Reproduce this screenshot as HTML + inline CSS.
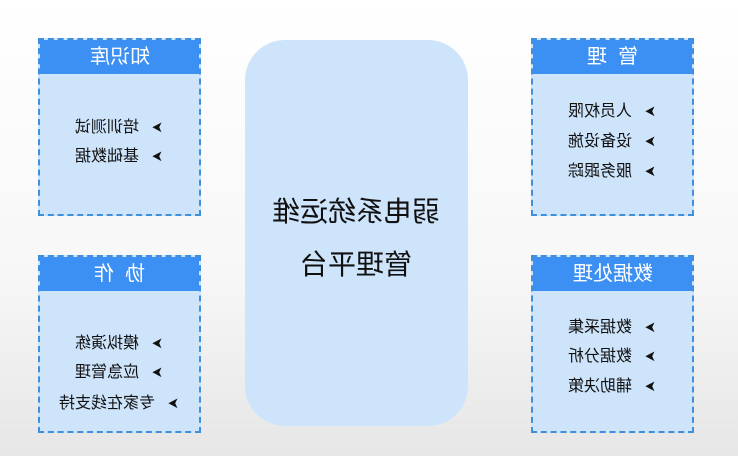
<!DOCTYPE html>
<html><head><meta charset="utf-8"><style>
html,body{margin:0;padding:0}
body{width:738px;height:456px;position:relative;overflow:hidden;background:linear-gradient(#ffffff 0%,#f7f7f7 60%,#e6e6e6 100%);font-family:"Liberation Sans","Noto Sans CJK SC",sans-serif}
.box{position:absolute;width:163px;height:178px;background:#cde4fb;border:2px dashed #3f8fdc;box-sizing:border-box}
.hd{position:absolute;left:0;top:0;right:0;height:34px;background:#3d90f3;color:#fff;font-size:20px;line-height:34px;text-align:center}
.m{display:inline-block;transform:scaleX(-1)}
.it{position:absolute;left:0;right:0;text-align:center;font-size:16px;line-height:20px;color:#111}
.ar{display:inline-block;font-size:15px;margin-right:12px;vertical-align:0px;transform:scaleX(0.9)}
.center{position:absolute;left:245px;top:40px;width:223px;height:386px;border-radius:40px;background:#cde4fb}
.ct{position:absolute;left:0;right:0;text-align:center;font-size:28px;color:#111;line-height:36px}
</style></head><body>
<div class="center">
<div class="ct" style="top:154px"><span class="m">弱电系统运维</span></div>
<div class="ct" style="top:207px"><span class="m">管理平台</span></div>
</div>

<div class="box" style="left:38px;top:38px">
<div class="hd"><span class="m">知识库</span></div>
<div class="it" style="top:78px"><span class="m"><span class="ar">➤</span>培训测试</span></div>
<div class="it" style="top:107px"><span class="m"><span class="ar">➤</span>基础数据</span></div>
</div>

<div class="box" style="left:38px;top:255px">
<div class="hd"><span class="m">协&nbsp;&nbsp;作</span></div>
<div class="it" style="top:77px"><span class="m"><span class="ar">➤</span>模拟演练</span></div>
<div class="it" style="top:106px"><span class="m"><span class="ar">➤</span>应急管理</span></div>
<div class="it" style="top:137px"><span class="m"><span class="ar">➤</span>专家在线支持</span></div>
</div>

<div class="box" style="left:531px;top:38px">
<div class="hd"><span class="m">管&nbsp;&nbsp;理</span></div>
<div class="it" style="top:62px"><span class="m"><span class="ar">➤</span>人员权限</span></div>
<div class="it" style="top:92px"><span class="m"><span class="ar">➤</span>设备设施</span></div>
<div class="it" style="top:122px"><span class="m"><span class="ar">➤</span>服务跟踪</span></div>
</div>

<div class="box" style="left:531px;top:255px">
<div class="hd"><span class="m">数据处理</span></div>
<div class="it" style="top:61px"><span class="m"><span class="ar">➤</span>数据采集</span></div>
<div class="it" style="top:90px"><span class="m"><span class="ar">➤</span>数据分析</span></div>
<div class="it" style="top:120px"><span class="m"><span class="ar">➤</span>辅助决策</span></div>
</div>
</body></html>
